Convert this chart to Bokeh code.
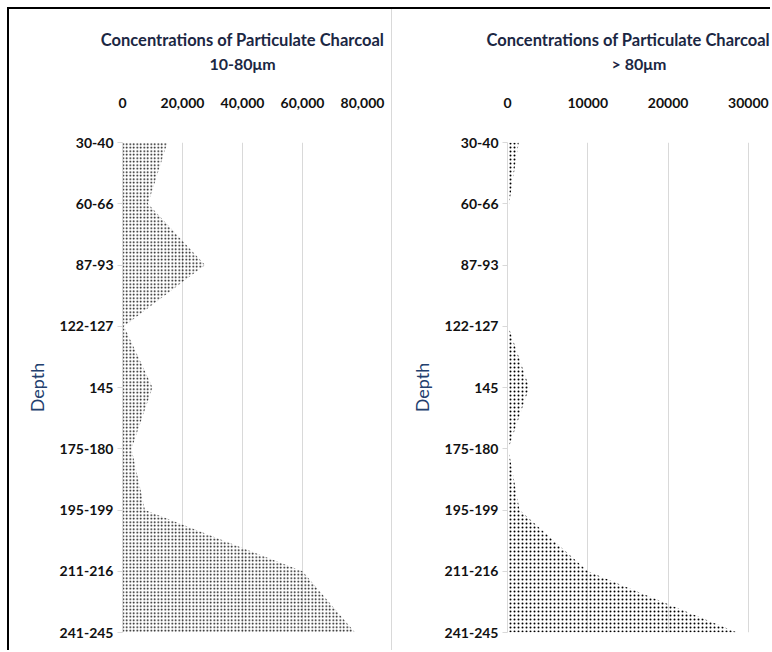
from bokeh.plotting import figure
from bokeh.models import Range1d, FixedTicker, NumeralTickFormatter, Title, ColumnDataSource, Div, Spacer
from bokeh.layouts import row, column
from bokeh.embed import file_html
from bokeh.resources import INLINE

depths = ["30-40", "60-66", "87-93", "122-127", "145", "175-180", "195-199", "211-216", "241-245"]
fine_10_80 = [15000, 8500, 27500, 500, 10000, 3000, 7500, 60000, 77500]
coarse_gt80 = [1400, 200, 0, 100, 2700, 100, 1500, 10000, 28600]

x_ticks_left = [0, 20000, 40000, 60000, 80000]
x_ticks_right = [0, 10000, 20000, 30000]

FONT = "Lato"
GRID = "#D9D9D9"
TITLE_COLOR = "#1B2743"
DEPTH_COLOR = "#23406E"
H = 641


def make_panel(values, xmax, ticks, fmt, title1, title2, width, left_border, right_border,
               hatch_scale, hatch_weight, title_align, title_offset):
    n = len(depths)
    src = ColumnDataSource(dict(y=list(range(n)), x1=[0] * n, x2=values))
    p = figure(width=width, height=H, output_backend="svg", toolbar_location=None,
               x_range=Range1d(0, xmax), y_range=Range1d(n - 1, 0),
               x_axis_location="above",
               min_border_left=left_border, min_border_right=right_border,
               min_border_top=133, min_border_bottom=18)
    p.outline_line_color = None
    p.background_fill_color = "white"
    p.border_fill_color = "white"
    p.harea(x1="x1", x2="x2", y="y", source=src, fill_alpha=0,
            hatch_pattern="dot", hatch_color="black", hatch_scale=hatch_scale,
            hatch_weight=hatch_weight)

    xa = p.xaxis[0]
    xa.ticker = FixedTicker(ticks=ticks)
    xa.formatter = fmt
    xa.axis_line_color = None
    xa.major_tick_line_color = None
    xa.minor_tick_line_color = None
    xa.major_label_standoff = 29
    xa.major_label_text_font = FONT
    xa.major_label_text_font_style = "bold"
    xa.major_label_text_font_size = "14px"
    xa.major_label_text_color = "#111111"
    # second line of the chart title
    xa.axis_label = title2
    xa.axis_label_standoff = 22
    xa.axis_label_text_font = FONT
    xa.axis_label_text_font_style = "bold"
    xa.axis_label_text_font_size = "16px"
    xa.axis_label_text_color = TITLE_COLOR

    ya = p.yaxis[0]
    ya.ticker = FixedTicker(ticks=list(range(n)))
    ya.major_label_overrides = {i: d for i, d in enumerate(depths)}
    ya.axis_line_color = GRID
    ya.major_tick_line_color = GRID
    ya.major_tick_out = 5
    ya.major_tick_in = 0
    ya.minor_tick_line_color = None
    ya.major_label_standoff = 4
    ya.major_label_text_font = FONT
    ya.major_label_text_font_style = "bold"
    ya.major_label_text_font_size = "14px"
    ya.major_label_text_color = "#111111"
    ya.axis_label = "Depth"
    ya.axis_label_text_font = FONT
    ya.axis_label_text_font_style = "normal"
    ya.axis_label_text_font_size = "18px"
    ya.axis_label_text_color = DEPTH_COLOR
    ya.axis_label_standoff = 9

    p.xgrid.ticker = FixedTicker(ticks=ticks)
    p.xgrid.grid_line_color = GRID
    p.ygrid.grid_line_color = None

    t1 = Title(text=title1, align=title_align, text_font=FONT, text_font_style="bold",
               text_font_size="16.5px", text_color=TITLE_COLOR, standoff=2,
               offset=title_offset)
    p.add_layout(t1, "above")
    return p


TITLE = "Concentrations of Particulate Charcoal"
left = make_panel(fine_10_80, 80000, x_ticks_left, NumeralTickFormatter(format="0,0"),
                  TITLE, "10-80\u03bcm", 382, 113, 29, 3.5, 1.1, "center", 0)
right = make_panel(coarse_gt80, 32750, x_ticks_right, NumeralTickFormatter(format="0"),
                   TITLE, "> 80\u03bcm", 378, 115, 0, 4.0, 2.6, "left", -21)

divider = Div(width=1, height=H, margin=(0, 0, 0, 0), styles={"background-color": GRID})
top_line = Div(width=2 + 382 + 1 + 378, height=2, margin=(0, 0, 0, 0),
               styles={"background-color": "black"})
left_line = Div(width=2, height=H, margin=(0, 0, 0, 0), styles={"background-color": "black"})

content = column(top_line, row(left_line, left, divider, right))
layout = column(Spacer(width=10, height=7), row(Spacer(width=7, height=10), content))

open("out.html", "w").write(file_html(layout, INLINE))
